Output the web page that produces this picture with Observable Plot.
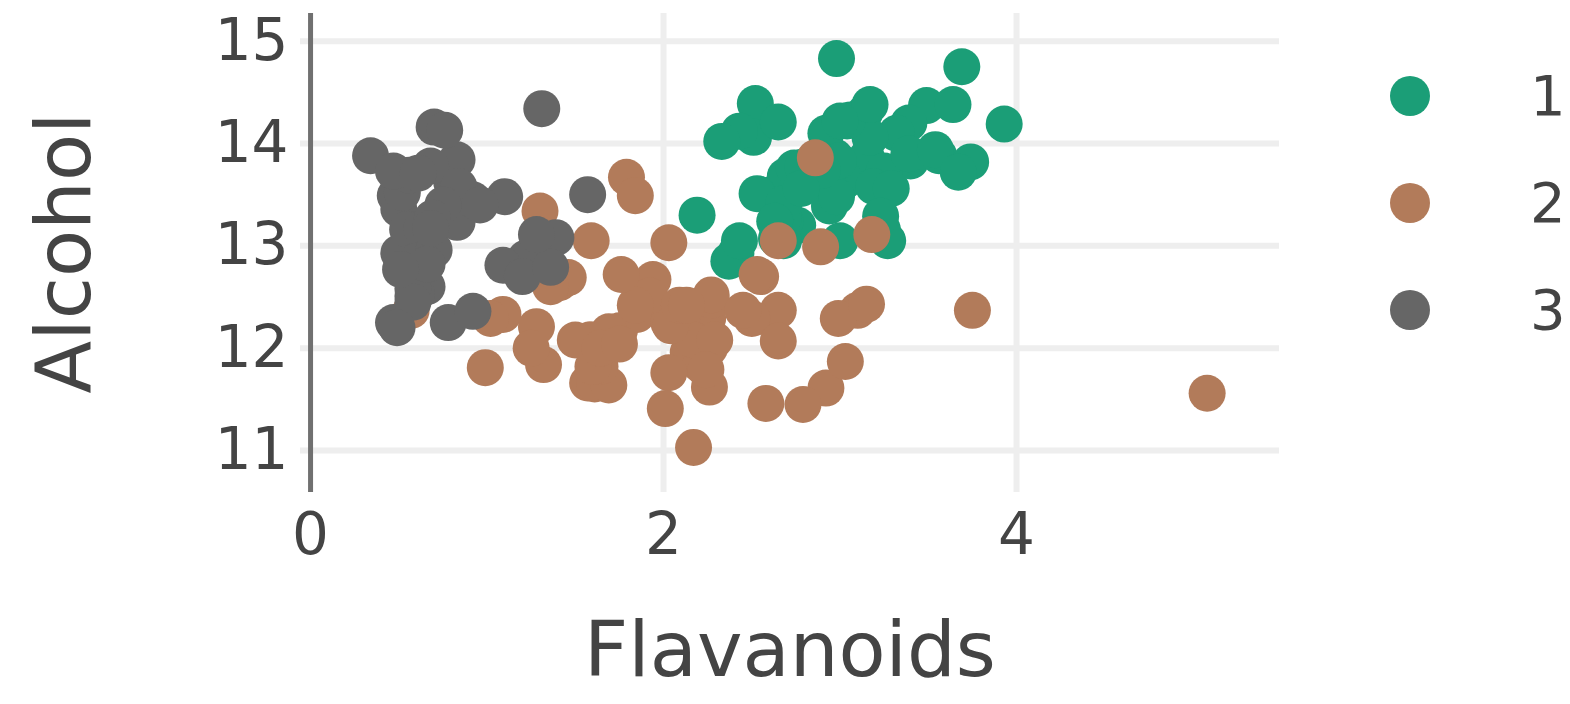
<!DOCTYPE html>
<html>
<head>
<meta charset="utf-8">
<script src="https://cdn.jsdelivr.net/npm/d3@7"></script>
<script src="https://cdn.jsdelivr.net/npm/@observablehq/plot@0.6"></script>
<style>
  html, body { margin: 0; padding: 0; background: #fff; }
  #wrap { position: relative; width: 1570px; height: 704px; font-family: "DejaVu Sans", Verdana, sans-serif; }
  .leg { position: absolute; left: 1370px; height: 70px; display: flex; align-items: center; color: #444; font-size: 56px; line-height: 70px; }
  .leg .sw { width: 40px; height: 40px; border-radius: 50%; margin-left: 20px; }
  .leg .lb { margin-left: 100px; }
</style>
</head>
<body>
<div id="wrap"></div>
<script>
// Wine data: Flavanoids (x) vs Alcohol (y), by class
const classes = ["1", "2", "3"];
const colors = ["#1b9e77", "#b27b5a", "#666666"];

const alcohol1 = [14.23,13.2,13.16,14.37,13.24,14.2,14.39,14.06,14.83,13.86,14.1,14.12,13.75,14.75,14.38,13.63,14.3,13.83,14.19,13.64,14.06,12.93,13.71,12.85,13.5,13.05,13.39,13.3,13.87,14.02,13.73,13.58,13.68,13.76,13.51,13.48,13.28,13.05,13.07,14.22,13.56,13.41,13.88,13.24,13.05,14.21,14.38,13.9,14.1,13.94,13.05,13.83,13.82,13.77,13.74,13.56,14.22,13.29,13.72];
const flav1 = [3.06,2.76,3.24,3.49,2.69,3.39,2.52,2.51,2.98,3.15,3.32,2.43,2.76,3.69,3.64,2.91,3.14,3.4,3.93,3.03,3.17,2.41,2.88,2.37,2.61,2.68,2.94,2.19,2.97,2.33,3.25,3.19,2.69,2.74,2.53,2.98,2.68,2.43,2.64,3.04,3.29,2.68,3.56,2.63,3.0,2.65,3.17,3.39,2.92,3.54,3.27,2.99,3.74,2.79,2.9,2.78,3.0,3.23,3.67];

const alcohol2 = [12.37,12.33,12.64,13.67,12.37,12.17,12.37,13.11,12.37,13.34,12.21,12.29,13.86,13.49,12.99,11.96,11.66,13.03,11.84,12.33,12.7,12,12.72,12.08,13.05,11.84,12.67,12.16,11.65,11.64,12.08,12.08,12,12.69,12.29,11.62,12.47,11.81,12.29,12.37,12.29,12.08,12.6,12.34,11.82,12.51,12.42,12.25,12.72,12.22,11.61,11.46,12.52,11.76,11.41,12.08,11.03,11.82,12.42,12.77,12,11.45,11.56,12.42,13.05,11.87,12.07,12.43,11.79,12.37,12.04];
const flav2 = [0.57,1.09,1.41,1.79,3.1,1.75,2.65,3.18,2.0,1.3,1.28,1.02,2.86,1.84,2.89,2.14,1.57,2.03,1.32,1.85,2.55,2.26,2.53,1.58,1.59,2.21,1.94,1.69,1.61,1.69,1.59,1.5,1.25,1.46,2.25,2.26,2.27,0.99,2.5,3.75,2.99,2.17,1.36,2.11,1.64,1.92,1.84,2.03,1.76,2.04,2.92,2.58,2.27,2.03,2.01,2.29,2.17,1.6,2.09,1.25,1.64,2.79,5.08,2.13,2.65,3.03,2.65,3.15,2.24,2.45,1.75];

const alcohol3 = [12.86,12.88,12.81,12.7,12.51,12.6,12.25,12.53,13.49,12.84,12.93,13.36,13.52,13.62,12.25,13.16,13.88,12.87,13.32,13.08,13.5,12.79,13.11,13.23,12.58,13.17,13.84,12.45,14.34,13.48,12.36,13.69,12.85,12.96,13.78,13.73,13.45,12.82,13.58,13.4,12.2,12.77,14.16,13.71,13.4,13.27,13.17,14.13];
const flav3 = [1.25,1.22,1.09,1.2,0.58,0.66,0.47,0.6,0.48,0.6,0.5,0.5,0.52,0.8,0.78,0.55,0.34,0.65,0.76,1.39,1.57,1.36,1.28,0.83,0.58,0.63,0.83,0.58,1.31,1.1,0.92,0.56,0.6,0.7,0.68,0.47,0.92,0.66,0.84,0.96,0.49,0.51,0.7,0.61,0.75,0.69,0.68,0.76];

const xTicks = [0, 2, 4];
const yTicks = [11, 12, 13, 14, 15];
const xTitle = "Flavanoids";
const yTitle = "Alcohol";

const series = [[flav1, alcohol1], [flav2, alcohol2], [flav3, alcohol3]];
const data = [];
series.forEach(([fx, al], i) => {
  fx.forEach((f, j) => data.push({cls: classes[i], flav: f, alc: al[j]}));
});

const font = "DejaVu Sans, Verdana, sans-serif";

const chart = Plot.plot({
  width: 1570,
  height: 704,
  marginLeft: 300,
  marginRight: 291,
  marginTop: 13,
  marginBottom: 212,
  style: {fontFamily: font, color: "#444", background: "#fff"},
  x: {domain: [-0.057, 5.49]},
  y: {domain: [10.59, 15.27]},
  color: {domain: classes, range: colors},
  marks: [
    Plot.gridY(yTicks, {stroke: "#eeeeee", strokeOpacity: 1, strokeWidth: 6}),
    Plot.gridX(xTicks.filter(d => d !== 0), {stroke: "#eeeeee", strokeOpacity: 1, strokeWidth: 6}),
    Plot.ruleX([0], {stroke: "#707070", strokeWidth: 5}),
    Plot.axisY(yTicks, {tickSize: 0, tickPadding: 12, fontSize: 58, label: null, fill: "#444", tickFormat: d3.format("d")}),
    Plot.axisX(xTicks, {tickSize: 0, tickPadding: 20, fontSize: 58, label: null, fill: "#444", tickFormat: d3.format("d")}),
    Plot.dot(data, {x: "flav", y: "alc", fill: "cls", r: 18.5, stroke: null}),
    Plot.text([xTitle], {frameAnchor: "bottom", dy: 183, fontSize: 77, fill: "#444", text: d => d}),
    Plot.text([yTitle], {frameAnchor: "left", textAnchor: "middle", dx: -235, rotate: -90, fontSize: 77, fill: "#444", text: d => d})
  ]
});

const wrap = document.getElementById("wrap");
wrap.appendChild(chart);

// Legend (HTML, to the right of the plot)
const legCenters = [96, 203, 310];
classes.forEach((c, i) => {
  const row = document.createElement("div");
  row.className = "leg";
  row.style.top = (legCenters[i] - 35) + "px";
  const sw = document.createElement("span");
  sw.className = "sw";
  sw.style.background = colors[i];
  const lb = document.createElement("span");
  lb.className = "lb";
  lb.textContent = c;
  row.appendChild(sw);
  row.appendChild(lb);
  wrap.appendChild(row);
});
</script>
</body>
</html>
